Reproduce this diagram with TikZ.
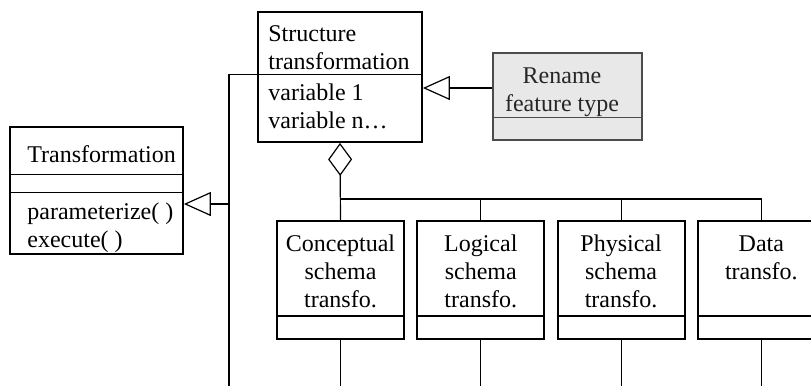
\documentclass[tikz,border=0pt]{standalone}
\usepackage{fontspec}
\setmainfont{Liberation Serif}
\usetikzlibrary{positioning,arrows.meta,calc}
\def\childW{63.5pt}
\def\childH{59pt}
\def\borderW{0.9pt}
\tikzset
{
  ClassBox/.style =
  {
    draw,
    line width=\borderW,
    inner sep=0pt,
  },
  ChildBox/.style =
  {
    ClassBox,
    minimum width=\childW,
    minimum height=\childH,
  },
  Label/.style =
  {
    inner sep=0pt,
    font=\fontsize{12}{14}\selectfont,
  },
  Link/.style = {line width=0.6pt},
  Inherit/.style =
  {
    Link,
    -{Triangle[open,length=13.5pt,width=12pt]},
  },
  Aggreg/.style =
  {
    Link,
    {Diamond[open,length=16.5pt,width=12pt]}-,
  },
}

\begin{document}
\begin{tikzpicture}
[
  x=0.5pt, y=-0.5pt,
  node distance=5.75pt, % gap between the sub classes
]
\useasboundingbox (0,0) rectangle (811,386);
\clip (0,0) rectangle (811,386);

% classes
\node (trans) [ClassBox, minimum width=86.5pt, minimum height=63.5pt] at (96.5,190.5) {};
\node (struct) [ClassBox, minimum width=82pt, minimum height=65pt] at (340,77) {};
\node (rename) [ClassBox, draw=black!70, fill=black!9, line width=0.7pt,
  minimum width=74.5pt, minimum height=43.5pt] at (567.5,96.5) {};
\node (concept) [ChildBox] at (340.5,280) {};
\node (logical) [ChildBox, right=of concept] {};
\node (physical) [ChildBox, right=of logical] {};
\node (data) [ChildBox, right=of physical] {};

% compartments
\draw [Link] ($(trans.north west)+(0,48)$) -- ($(trans.north east)+(0,48)$);
\draw [Link] ($(trans.north west)+(0,66)$) -- ($(trans.north east)+(0,66)$);
\coordinate (structDiv) at ($(struct.north west)+(0,63)$);
\draw [Link] (structDiv) -- ($(struct.north east)+(0,63)$);
\draw [Link, black!70] ($(rename.north west)+(0,65)$) -- ($(rename.north east)+(0,65)$);
\foreach \c in {concept,logical,physical,data}
  \draw [Link] ($(\c.south west)+(0,-24)$) -- ($(\c.south east)+(0,-24)$);

% texts
\node [Label, anchor=north west] at (27,145) {Transformation};
\node [Label, anchor=north west, align=left] at (27,202) {parameterize( )\\execute( )};
\node [Label, anchor=north west, align=left] at (268,25) {Structure\\transformation};
\node [Label, anchor=north west, align=left] at (268,83) {variable 1\\variable n\ldots};
\node [Label, anchor=north, align=center, text=black!85] at (562,67) {Rename\\feature type};
\node [Label, anchor=north, align=center] at ($(concept.north)+(0,14)$) {Conceptual\\schema\\transfo.};
\node [Label, anchor=north, align=center] at ($(logical.north)+(0,14)$) {Logical\\schema\\transfo.};
\node [Label, anchor=north, align=center] at ($(physical.north)+(0,14)$) {Physical\\schema\\transfo.};
\node [Label, anchor=north, align=center] at ($(data.north)+(0,15)$) {Data\\transfo.};

% connectors
\coordinate (bus) at (0,199);
\coordinate (spine) at (229,386);
\coordinate (transIn) at ($(trans.east)+(0,13.5)$);
\coordinate (renameOut) at ($(rename.west)+(0,-8.5)$);
\draw [Aggreg] (struct.south) -- (concept.north);
\draw [Link] (concept.north |- bus) -| (data.north);
\foreach \c in {logical,physical}
  \draw [Link] (\c.north |- bus) -- (\c.north);
\draw [Link] (spine) |- (structDiv);
\draw [Inherit] (spine |- transIn) -- (transIn);
\draw [Inherit] (renameOut) -- (renameOut -| struct.east);
\foreach \c in {concept,logical,physical,data}
  \draw [Link] (\c.south) -- (\c.south |- spine);
\end{tikzpicture}
\end{document}
